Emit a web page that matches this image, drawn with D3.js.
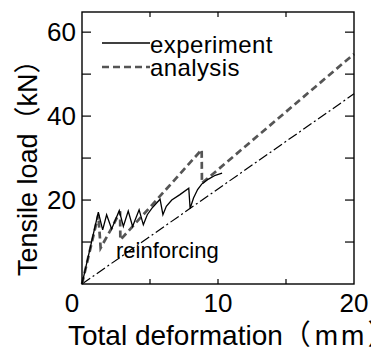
<!DOCTYPE html>
<html>
  <head>
    <meta charset="utf-8">
    <script src="https://cdn.jsdelivr.net/npm/d3@7"></script>
    <style>
      body {margin:0; background:#fff;}
      text {font-family:"Liberation Sans", Arial, "Noto Sans CJK JP", sans-serif; fill:#000;}
    </style>
  </head>
  <body>
  <script>
    // experiment (solid)
    var expX = [0, 1.2, 1.52, 1.81, 2.18, 2.74, 3.04, 3.4, 3.72, 4.2, 4.51, 4.8, 5.2, 5.74, 5.95, 6.2, 6.6, 7.2, 7.85, 7.95, 8.2, 8.5, 8.8, 9.3, 9.8, 10.3];
    var expY = [0, 17.1, 12.9, 16.5, 13.1, 17.5, 13.7, 17.4, 13.7, 17.7, 14.1, 16.5, 18.3, 20.2, 16.5, 18.5, 20, 21.3, 22.8, 18, 20.5, 22.5, 23.8, 25, 25.9, 26.4];
    // analysis (dashed)
    var anaX = [0, 1.2, 1.37, 2.18, 2.8, 2.82, 5.7, 8.8, 8.82, 20];
    var anaY = [0, 16.5, 8.6, 13.3, 17.3, 10.5, 20.8, 32, 24, 54.8];
    // reinforcing (dash-dot)
    var refX = [0, 20];
    var refY = [0, 45.3];

    var xTicks = [5, 10, 15];
    var yTicks = [10, 20, 30, 40, 50, 60];
    var xLabels = [0, 10, 20];
    var yLabels = [20, 40, 60];

    var width = 371, height = 348;
    var m = {left: 82, top: 12, right: 17, bottom: 64};
    var w = width - m.left - m.right, h = height - m.top - m.bottom;

    var svg = d3.select("body").append("svg")
        .attr("width", width).attr("height", height);

    var x = d3.scaleLinear().domain([0, 20]).range([m.left, m.left + w]);
    var y = d3.scaleLinear().domain([0, 64.8]).range([m.top + h, m.top]);

    var line = d3.line().x(function(d) { return x(d[0]); }).y(function(d) { return y(d[1]); });
    function pts(xs, ys) { return xs.map(function(v, i) { return [v, ys[i]]; }); }

    // plot lines
    svg.append("path").attr("d", line(pts(refX, refY)))
        .attr("fill", "none").attr("stroke", "#000").attr("stroke-width", 1.2)
        .attr("stroke-dasharray", "10,3,2,3");
    svg.append("path").attr("d", line(pts(anaX, anaY)))
        .attr("fill", "none").attr("stroke", "#555").attr("stroke-width", 2.7)
        .attr("stroke-dasharray", "7,4");
    svg.append("path").attr("d", line(pts(expX, expY)))
        .attr("fill", "none").attr("stroke", "#000").attr("stroke-width", 1.3);

    // frame
    svg.append("rect").attr("x", m.left).attr("y", m.top).attr("width", w).attr("height", h)
        .attr("fill", "none").attr("stroke", "#000").attr("stroke-width", 1.4);

    // ticks on all sides, pointing in
    var g = svg.append("g").attr("stroke", "#000").attr("stroke-width", 1.2);
    g.selectAll(".yl").data(yTicks).enter().append("line")
        .attr("x1", m.left).attr("x2", m.left + 9)
        .attr("y1", function(d) { return y(d); }).attr("y2", function(d) { return y(d); });
    g.selectAll(".yr").data(yTicks).enter().append("line")
        .attr("x1", m.left + w).attr("x2", m.left + w - 9)
        .attr("y1", function(d) { return y(d); }).attr("y2", function(d) { return y(d); });
    g.selectAll(".xb").data(xTicks).enter().append("line")
        .attr("y1", m.top + h).attr("y2", m.top + h - 5)
        .attr("x1", function(d) { return x(d); }).attr("x2", function(d) { return x(d); });
    g.selectAll(".xt").data(xTicks).enter().append("line")
        .attr("y1", m.top).attr("y2", m.top + 5)
        .attr("x1", function(d) { return x(d); }).attr("x2", function(d) { return x(d); });

    // tick labels
    svg.selectAll(".xlab").data(xLabels).enter().append("text")
        .attr("x", function(d) { return x(d) + (d === 0 ? -10 : 0); })
        .attr("y", 312)
        .attr("text-anchor", "middle").attr("font-size", 26)
        .text(function(d) { return d; });
    svg.selectAll(".ylab").data(yLabels).enter().append("text")
        .attr("x", 76).attr("y", function(d) { return y(d) + 9; })
        .attr("text-anchor", "end").attr("font-size", 26)
        .text(function(d) { return d; });

    // axis titles (reference is clipped at the right edge)
    var xt = svg.append("text").attr("x", 68).attr("y", 345).attr("font-size", 28);
    xt.append("tspan").text("Total deformation（");
    xt.append("tspan").attr("dx", 4).attr("letter-spacing", 3).text("mm");
    xt.append("tspan").text("）");
    svg.append("text").attr("transform", "translate(37,276) rotate(-90)")
        .attr("font-size", 27)
        .text("Tensile load（kN）");

    // legend
    svg.append("line").attr("x1", 102).attr("x2", 150).attr("y1", 43).attr("y2", 43)
        .attr("stroke", "#000").attr("stroke-width", 1.3);
    svg.append("text").attr("x", 150).attr("y", 53).attr("font-size", 24)
        .attr("letter-spacing", 0.4).text("experiment");
    svg.append("line").attr("x1", 102).attr("x2", 150).attr("y1", 67).attr("y2", 67)
        .attr("stroke", "#555").attr("stroke-width", 2.7).attr("stroke-dasharray", "7,4");
    svg.append("text").attr("x", 150).attr("y", 76).attr("font-size", 24)
        .attr("letter-spacing", 0.4).text("analysis");

    svg.append("text").attr("x", 116).attr("y", 258).attr("font-size", 22).text("reinforcing");
  </script>
  </body>
</html>
